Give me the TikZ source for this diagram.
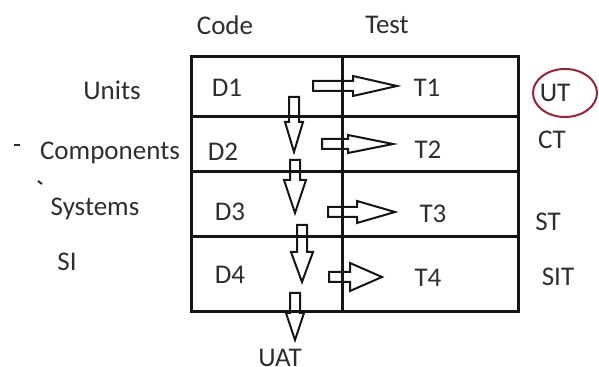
\documentclass[tikz,border=0pt]{standalone}
\usepackage{fontspec}
\setmainfont{Carlito}
\usetikzlibrary{shapes.geometric}
\definecolor{ringRed}{HTML}{9A2236}
\definecolor{inkGray}{HTML}{2E2E2E}
\definecolor{gridBlack}{HTML}{151515}
\newcommand\blockright[5]{\draw[blk] (#1,#2-5) -- (#3,#2-5) -- (#3,#2-#5) -- (#4,#2) -- (#3,#2+#5) -- (#3,#2+5) -- (#1,#2+5) -- cycle;}
\newcommand\blockdown[5]{\draw[blk] (#1-5,#2) -- (#1-5,#3) -- (#1-#5,#3) -- (#1,#4) -- (#1+#5,#3) -- (#1+5,#3) -- (#1+5,#2) -- cycle;}

\begin{document}
\begin{tikzpicture}[x=0.5pt, y=-0.5pt,
      lbl/.style={text=inkGray, inner sep=1pt, font=\fontsize{13.5}{16}\selectfont},
      blk/.style={draw=gridBlack, line width=1pt, line join=miter},
      grid/.style={draw=gridBlack, line width=1.5pt}]
    \useasboundingbox (0,0) rectangle (599,367);
    \node[lbl] (code) at (225,25) {Code};
    \node[lbl] (test) at (387,25) {Test};
    \node[lbl] (units) at (112,90) {Units};
    \node[lbl] (comp) at (110,153) {Components};
    \node[lbl] (sys) at (95,209) {Systems};
    \node[lbl] (si) at (67,262) {SI};
    \node[lbl] (d1) at (227,88) {D1};
    \node[lbl] (d2) at (223,152) {D2};
    \node[lbl] (d3) at (230,212) {D3};
    \node[lbl] (d4) at (230,275) {D4};
    \node[lbl] (t1) at (427,88) {T1};
    \node[lbl] (t2) at (428,150) {T2};
    \node[lbl] (t3) at (433,214) {T3};
    \node[lbl] (t4) at (428,278) {T4};
    \node[lbl] (ut) at (555,93) {UT};
    \node[lbl] (ct) at (552,140) {CT};
    \node[lbl] (st) at (548,222) {ST};
    \node[lbl] (sit) at (558,277) {SIT};
    \node[lbl] (uat) at (280,358) {UAT};
    \node[ellipse, draw=ringRed, line width=1pt, minimum width=32pt, minimum height=24pt] (ring) at (565,93) {};
    \draw[inkGray, line width=1.2pt] (14,145) -- (20,145);
    \draw[inkGray, line width=1pt] (38,181) -- (42,184);
    \blockright{313}{86}{353}{397}{10}
    \blockright{322}{144}{348}{393}{9}
    \blockright{328}{212}{357}{395}{11}
    \blockright{329}{277}{350}{382}{14}
    \blockdown{294}{97}{122}{152}{9}
    \blockdown{295}{160}{180}{213}{11}
    \blockdown{302}{225}{252}{282}{11}
    \blockdown{295}{293}{313}{340}{9}
    \draw[grid] (191,57) rectangle (518,312);
    \draw[grid] (342,57) -- (342,312);
    \foreach \ry in {117,172,237}
      \draw[grid] (191,\ry) -- (520,\ry);
  \end{tikzpicture}
\end{document}
